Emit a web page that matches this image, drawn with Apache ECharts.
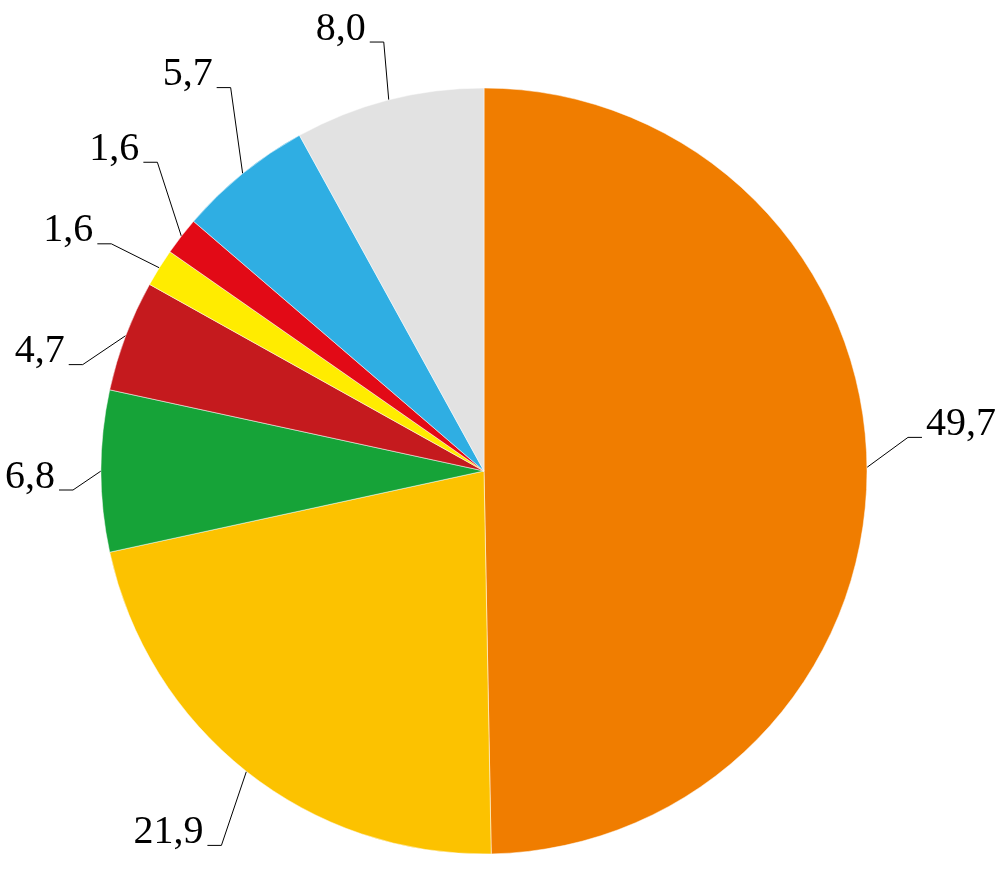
<!DOCTYPE html>
<html>
<head>
<meta charset="utf-8">
<script src="https://cdn.jsdelivr.net/npm/echarts@6/dist/echarts.min.js"></script>
<style>
html,body{margin:0;padding:0;background:#fff;}
#chart{width:1004px;height:894px;}
</style>
</head>
<body>
<div id="chart"></div>
<script>
// Data
const categories = ['A', 'B', 'C', 'D', 'E', 'F', 'G', 'H'];
const values = [49.7, 21.9, 6.8, 4.7, 1.6, 1.6, 5.7, 8.0];
const colors = ['#F07D00', '#FCC200', '#16A338', '#C51A1E', '#FFEC00', '#E20A16', '#2FAEE3', '#E2E2E2'];

// Label leader-line styling: elbow offset from the slice edge anchor, horizontal run direction
const elbowOffsets = [[41, -30], [-25, 74], [-28, 19], [-43, 29], [-48, -24], [-24, -74], [-12, -86], [-5, -58]];
const runLength = 14;
const textGap = 4;

const chart = echarts.init(document.getElementById('chart'));
chart.setOption({
  animation: false,
  backgroundColor: '#ffffff',
  series: [{
    type: 'pie',
    center: [484, 471],
    radius: 383,
    startAngle: 90,
    clockwise: true,
    avoidLabelOverlap: false,
    data: categories.map((c, i) => ({ name: c, value: values[i], itemStyle: { color: colors[i] } })),
    itemStyle: { borderColor: '#ffffff', borderWidth: 0.5 },
    label: {
      show: true,
      position: 'outside',
      formatter: p => p.value.toFixed(1).replace('.', ','),
      fontFamily: '"Liberation Serif", "Times New Roman", serif',
      fontSize: 40,
      color: '#000000'
    },
    labelLine: {
      show: true,
      length: 30,
      length2: 14,
      lineStyle: { color: '#000000', width: 1 }
    },
    labelLayout: function (params) {
      const i = params.dataIndex;
      const a = params.labelLinePoints[0];
      const off = elbowOffsets[i];
      const dir = off[0] >= 0 ? 1 : -1;
      const elbow = [a[0] + off[0], a[1] + off[1]];
      const end = [elbow[0] + dir * runLength, elbow[1]];
      return {
        x: end[0] + dir * textGap,
        y: end[1] - 13,
        align: dir > 0 ? 'left' : 'right',
        verticalAlign: 'middle',
        labelLinePoints: [a, elbow, end]
      };
    }
  }]
});
</script>
</body>
</html>
